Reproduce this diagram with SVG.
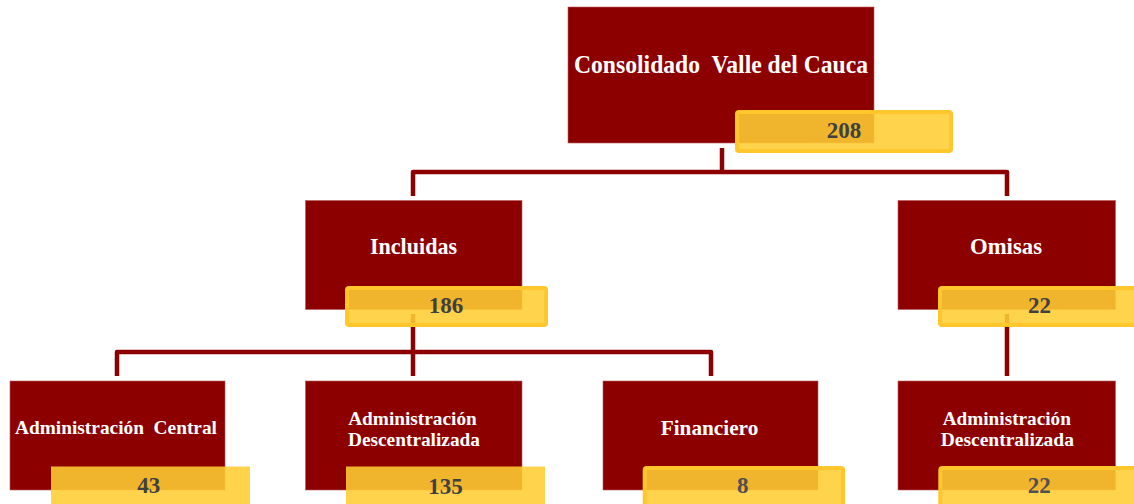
<svg xmlns="http://www.w3.org/2000/svg" width="1134" height="504" viewBox="0 0 1134 504">
<style>
  .box { fill: #8C0000; stroke: #B85A5A; stroke-width: 0.6; }
  .val { fill: #FFCD33; fill-opacity: 0.88; }
  .valb { fill: #FFCD33; fill-opacity: 0.88; stroke: #FFC72C; stroke-width: 4; }
  .lbl { font-family: "Liberation Serif", "Times New Roman", serif; font-weight: bold; fill: #FFFFFF; text-anchor: middle; white-space: pre; }
  .num { font-family: "Liberation Serif", "Times New Roman", serif; font-weight: bold; fill: #404040; text-anchor: middle; font-size: 23px; }
  .num2 { fill: #505050; }
  .conn { fill: none; stroke: #8C0000; stroke-width: 4.5; stroke-linejoin: round; }
</style>
<rect width="1134" height="504" fill="#FFFFFF"/>
<g id="connectors">
  <path class="conn" d="M722,148 V172"/>
  <path class="conn" d="M413,196 V172 H1007 V196"/>
  <path class="conn" d="M413,314 V376"/>
  <path class="conn" d="M117,376 V352 H711 V376"/>
  <path class="conn" d="M1007,314 V376"/>
</g>
<g id="node-consolidado">
  <rect class="box" x="568" y="7" width="306" height="136"/>
  <text class="lbl" x="721" y="73" font-size="24.5" textLength="294" lengthAdjust="spacingAndGlyphs" xml:space="preserve">Consolidado  Valle del Cauca</text>
  <rect class="valb" x="737" y="112" width="214" height="39" rx="2"/>
  <text class="num" x="844" y="138" font-size="24">208</text>
</g>
<g id="node-incluidas">
  <rect class="box" x="305.5" y="200.5" width="216.5" height="109"/>
  <text class="lbl" x="413.5" y="254" font-size="22.5" textLength="87" lengthAdjust="spacingAndGlyphs">Incluidas</text>
  <rect class="valb" x="347" y="288" width="199" height="37" rx="2"/>
  <text class="num" x="446" y="313">186</text>
</g>
<g id="node-omisas">
  <rect class="box" x="898" y="200.5" width="217.5" height="109"/>
  <text class="lbl" x="1006" y="254" font-size="22.5" textLength="72" lengthAdjust="spacingAndGlyphs">Omisas</text>
  <rect class="valb" x="940" y="288" width="199" height="37" rx="2"/>
  <text class="num" x="1039.5" y="312.5">22</text>
</g>
<g id="node-admin-central">
  <rect class="box" x="10" y="381" width="215" height="109"/>
  <text class="lbl" x="116" y="434" font-size="19" textLength="202" lengthAdjust="spacingAndGlyphs" xml:space="preserve">Administración  Central</text>
  <rect class="val" x="51" y="466.5" width="199" height="42"/>
  <text class="num" x="148.7" y="493">43</text>
</g>
<g id="node-admin-descentralizada">
  <rect class="box" x="305.5" y="381" width="216.5" height="109"/>
  <text class="lbl" x="412.5" y="425" font-size="19.5" textLength="128.7" lengthAdjust="spacingAndGlyphs">Administración</text>
  <text class="lbl" x="414" y="445.7" font-size="19.5" textLength="132" lengthAdjust="spacingAndGlyphs">Descentralizada</text>
  <rect class="val" x="346" y="466.5" width="199" height="42"/>
  <text class="num" x="445.5" y="494">135</text>
</g>
<g id="node-financiero">
  <rect class="box" x="603" y="381" width="215" height="109"/>
  <text class="lbl" x="709.5" y="435" font-size="21" textLength="97.6" lengthAdjust="spacingAndGlyphs">Financiero</text>
  <rect class="valb" x="644.7" y="468" width="198.3" height="42" rx="2"/>
  <text class="num num2" x="742.7" y="493">8</text>
</g>
<g id="node-omisas-admin-descentralizada">
  <rect class="box" x="898" y="381" width="217.5" height="109"/>
  <text class="lbl" x="1006.8" y="425" font-size="19.5" textLength="128.3" lengthAdjust="spacingAndGlyphs">Administración</text>
  <text class="lbl" x="1007.3" y="445.7" font-size="19.5" textLength="133.3" lengthAdjust="spacingAndGlyphs">Descentralizada</text>
  <rect class="valb" x="940.3" y="468" width="199" height="42" rx="2"/>
  <text class="num num2" x="1039.3" y="493">22</text>
</g>
</svg>
